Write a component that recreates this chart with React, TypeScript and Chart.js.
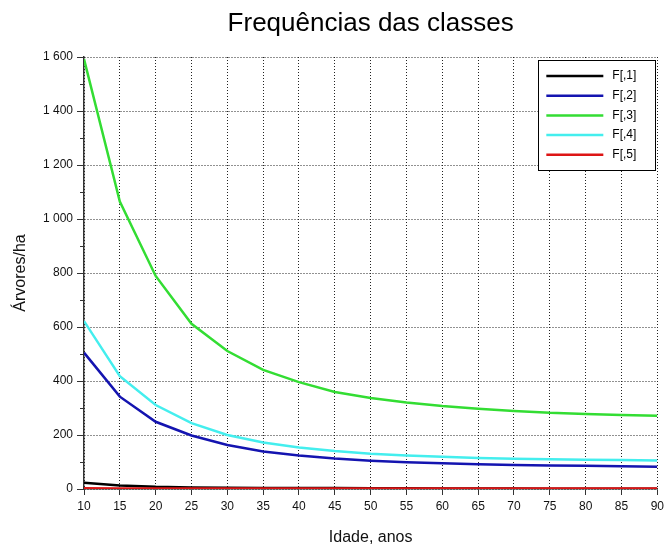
import React, { useEffect, useRef } from "react";
import { Chart, registerables } from "chart.js";

Chart.register(...registerables);

// Stand age (years)
const ages = [10, 15, 20, 25, 30, 35, 40, 45, 50, 55, 60, 65, 70, 75, 80, 85, 90];

// Trees per hectare in each diameter class
const f1 = [23, 13, 8, 6, 5, 4, 4, 4, 3, 3, 2, 2, 2, 1, 1, 1, 1];
const f2 = [505, 342, 249, 198, 163, 139, 124, 113, 105, 99, 95, 92, 89, 87, 86, 84, 82];
const f3 = [1592, 1065, 789, 612, 511, 441, 396, 359, 337, 320, 307, 297, 289, 282, 278, 274, 271];
const f4 = [622, 418, 311, 244, 200, 172, 154, 141, 131, 124, 119, 115, 112, 110, 108, 107, 106];
const f5 = [3, 2, 2, 2, 2, 2, 2, 2, 2, 2, 2, 2, 2, 2, 2, 2, 2];

const seriesLabels = ["F[,1]", "F[,2]", "F[,3]", "F[,4]", "F[,5]"];
const seriesColors = ["#000000", "#1414b0", "#33dd33", "#44eeee", "#dd1515"];
const seriesValues = [f1, f2, f3, f4, f5];

const titleText = "Frequências das classes";
const xTitle = "Idade, anos";
const yTitle = "Árvores/ha";

const FONT = "'Liberation Sans', Arial, Helvetica, sans-serif";

const formatThousands = (v: number) =>
  String(v).replace(/\B(?=(\d{3})+(?!\d))/g, " ");

// Title centred over the plot area
const titlePlugin = {
  id: "plotTitle",
  afterDraw(chart: any) {
    const { ctx, chartArea } = chart;
    ctx.save();
    ctx.font = `26px ${FONT}`;
    ctx.fillStyle = "#000";
    ctx.textAlign = "center";
    ctx.textBaseline = "middle";
    ctx.fillText(titleText, (chartArea.left + chartArea.right) / 2, 24);
    ctx.restore();
  },
};

// Short minor ticks between the labelled y ticks
const minorTicksPlugin = {
  id: "minorTicks",
  afterDraw(chart: any) {
    const { ctx, chartArea } = chart;
    const y = chart.scales.y;
    ctx.save();
    ctx.strokeStyle = "#333";
    ctx.lineWidth = 1;
    for (let v = 100; v < 1600; v += 200) {
      const py = Math.round(y.getPixelForValue(v)) + 0.5;
      ctx.beginPath();
      ctx.moveTo(chartArea.left - 4, py);
      ctx.lineTo(chartArea.left, py);
      ctx.stroke();
    }
    ctx.restore();
  },
};

// Boxed legend in the upper-right corner of the plot
const boxLegendPlugin = {
  id: "boxLegend",
  afterDraw(chart: any) {
    const { ctx, chartArea } = chart;
    const datasets = chart.data.datasets;
    const w = 117;
    const h = 110;
    const left = chartArea.right - w - 2;
    const top = chartArea.top + 3;
    ctx.save();
    ctx.fillStyle = "#fff";
    ctx.fillRect(left, top, w, h);
    ctx.strokeStyle = "#000";
    ctx.lineWidth = 1;
    ctx.strokeRect(Math.round(left) + 0.5, Math.round(top) + 0.5, w, h);
    ctx.font = `12px ${FONT}`;
    ctx.textAlign = "left";
    ctx.textBaseline = "middle";
    datasets.forEach((ds: any, i: number) => {
      const cy = top + 16 + i * 19.7;
      ctx.strokeStyle = ds.borderColor;
      ctx.lineWidth = 2.5;
      ctx.beginPath();
      ctx.moveTo(left + 8, cy);
      ctx.lineTo(left + 65, cy);
      ctx.stroke();
      ctx.fillStyle = "#000";
      ctx.fillText(ds.label, left + 74, cy);
    });
    ctx.restore();
  },
};

export default function App() {
  const canvasRef = useRef<HTMLCanvasElement | null>(null);

  useEffect(() => {
    const canvas = canvasRef.current;
    if (!canvas) return;

    const datasets = seriesValues.map((vals, i) => ({
      label: seriesLabels[i],
      data: ages.map((a, k) => ({ x: a, y: vals[k] })),
      borderColor: seriesColors[i],
      backgroundColor: seriesColors[i],
      borderWidth: 2.5,
      pointRadius: 0,
      tension: 0,
      fill: false,
      order: i === 4 ? 0 : 5 - i,
    }));

    const chart = new Chart(canvas, {
      type: "line",
      data: { datasets },
      plugins: [titlePlugin, minorTicksPlugin, boxLegendPlugin],
      options: {
        responsive: false,
        animation: false,
        layout: { padding: { top: 57, right: 10, left: 0, bottom: 0 } },
        plugins: {
          legend: { display: false },
          title: { display: false },
          tooltip: { enabled: false },
        },
        scales: {
          x: {
            type: "linear",
            min: 10,
            max: 90,
            afterFit: (scale: any) => {
              scale.height = 58;
            },
            ticks: {
              stepSize: 5,
              autoSkip: false,
              maxRotation: 0,
              padding: 4,
              color: "#111",
              font: { family: FONT, size: 12 },
            },
            grid: {
              color: "#222",
              lineWidth: 1,
              tickLength: 6,
              tickColor: "#333",
              tickBorderDash: [],
            },
            border: { display: true, color: "#333", width: 1.5, dash: [1, 2] },
            title: {
              display: true,
              text: xTitle,
              color: "#111",
              font: { family: FONT, size: 16 },
              padding: { top: 0, bottom: 0 },
            },
          },
          y: {
            type: "linear",
            min: 0,
            max: 1600,
            afterFit: (scale: any) => {
              scale.width = 84;
            },
            ticks: {
              stepSize: 200,
              autoSkip: false,
              padding: 4,
              color: "#111",
              font: { family: FONT, size: 12 },
              callback: (v: any) => formatThousands(Number(v)),
            },
            grid: {
              color: "#222",
              lineWidth: 1,
              tickLength: 7,
              tickColor: "#333",
              tickBorderDash: [],
            },
            border: { display: true, color: "#333", width: 1.5, dash: [1, 2] },
            title: {
              display: true,
              text: yTitle,
              color: "#111",
              font: { family: FONT, size: 16 },
              padding: { top: 11, bottom: 0 },
            },
          },
        },
      },
    });

    return () => chart.destroy();
  }, []);

  return (
    <div style={{ position: "absolute", left: 0, top: 0, width: 668, height: 547, background: "#fff" }}>
      <canvas ref={canvasRef} width={668} height={547} />
    </div>
  );
}
